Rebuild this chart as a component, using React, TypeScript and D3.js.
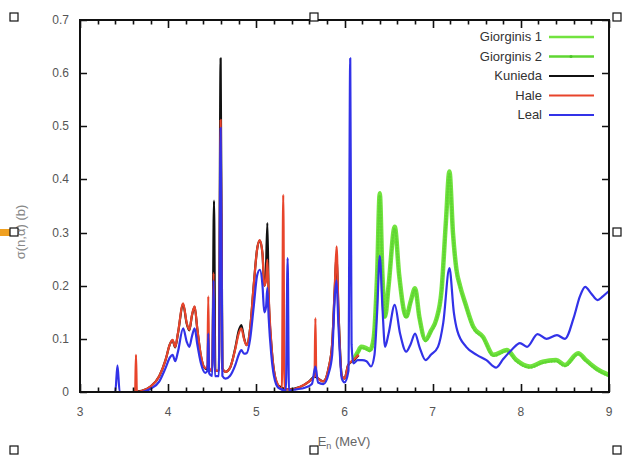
import React from "react";
import * as d3 from "d3";

const W = 625;
const H = 462;

const xTicks = [3, 4, 5, 6, 7, 8, 9];
const yTicks = [0, 0.1, 0.2, 0.3, 0.4, 0.5, 0.6, 0.7];

const seriesNames = ["Giorginis 1", "Giorginis 2", "Kunieda", "Hale", "Leal"];
const seriesColors = ["#72e33f", "#5fd632", "#111111", "#e8442b", "#3232e8"];

const leal: [number, number][] = [
  [3.0, 0.0], [3.4, 0.0], [3.425, 0.05], [3.45, 0.0], [3.7, 0.0], [3.8, 0.006], [3.9, 0.02],
  [3.97, 0.045], [4.02, 0.065], [4.05, 0.07], [4.08, 0.058], [4.11, 0.075], [4.17, 0.12],
  [4.21, 0.095], [4.24, 0.085], [4.27, 0.105], [4.3, 0.12], [4.33, 0.09], [4.37, 0.055],
  [4.42, 0.036], [4.445, 0.04], [4.455, 0.11], [4.465, 0.035], [4.5, 0.03], [4.515, 0.21],
  [4.53, 0.03], [4.575, 0.03], [4.595, 0.497], [4.615, 0.03], [4.65, 0.025], [4.7, 0.03],
  [4.76, 0.05], [4.8, 0.07], [4.83, 0.079], [4.86, 0.072], [4.89, 0.073], [4.93, 0.1],
  [4.97, 0.16], [5.01, 0.22], [5.04, 0.23], [5.07, 0.2], [5.09, 0.15], [5.11, 0.16],
  [5.125, 0.196], [5.14, 0.14], [5.17, 0.07], [5.2, 0.03], [5.25, 0.008], [5.335, 0.003],
  [5.355, 0.252], [5.37, 0.003], [5.45, 0.005], [5.55, 0.008], [5.63, 0.015], [5.67, 0.048],
  [5.7, 0.018], [5.76, 0.015], [5.82, 0.035], [5.86, 0.07], [5.89, 0.18], [5.91, 0.21],
  [5.93, 0.13], [5.97, 0.025], [6.0, 0.018], [6.045, 0.04], [6.065, 0.628], [6.08, 0.09],
  [6.1, 0.054], [6.15, 0.06], [6.2, 0.06], [6.25, 0.058], [6.3, 0.048], [6.34, 0.07],
  [6.37, 0.15], [6.4, 0.256], [6.43, 0.16], [6.46, 0.085], [6.5, 0.11], [6.57, 0.164],
  [6.63, 0.11], [6.7, 0.076], [6.75, 0.09], [6.8, 0.11], [6.85, 0.085], [6.92, 0.06],
  [6.98, 0.07], [7.06, 0.085], [7.12, 0.13], [7.19, 0.233], [7.24, 0.15], [7.28, 0.115],
  [7.38, 0.085], [7.5, 0.07], [7.61, 0.06], [7.72, 0.046], [7.8, 0.062], [7.9, 0.08],
  [7.99, 0.092], [8.07, 0.085], [8.19, 0.109], [8.29, 0.1], [8.41, 0.107], [8.5, 0.1],
  [8.6, 0.14], [8.67, 0.18], [8.73, 0.198], [8.8, 0.185], [8.87, 0.173], [8.93, 0.18],
  [9.0, 0.19],
];

const hale: [number, number][] = [
  [3.6, 0.0], [3.625, 0.0], [3.635, 0.07], [3.645, 0.0], [3.7, 0.002], [3.8, 0.01],
  [3.9, 0.03], [3.97, 0.06], [4.02, 0.09], [4.05, 0.098], [4.08, 0.085], [4.11, 0.11],
  [4.17, 0.167], [4.21, 0.13], [4.24, 0.117], [4.27, 0.145], [4.3, 0.161], [4.33, 0.12],
  [4.37, 0.07], [4.42, 0.045], [4.445, 0.05], [4.455, 0.18], [4.465, 0.045], [4.5, 0.04],
  [4.515, 0.224], [4.53, 0.04], [4.575, 0.04], [4.595, 0.512], [4.615, 0.045], [4.65, 0.038],
  [4.7, 0.045], [4.76, 0.08], [4.8, 0.11], [4.83, 0.12], [4.86, 0.1], [4.89, 0.088],
  [4.93, 0.12], [4.97, 0.2], [5.01, 0.27], [5.04, 0.286], [5.07, 0.26], [5.09, 0.2],
  [5.11, 0.21], [5.125, 0.249], [5.14, 0.18], [5.17, 0.09], [5.2, 0.04], [5.25, 0.012],
  [5.29, 0.005], [5.305, 0.371], [5.32, 0.005], [5.4, 0.005], [5.5, 0.01], [5.6, 0.02],
  [5.66, 0.03], [5.67, 0.139], [5.68, 0.03], [5.76, 0.02], [5.82, 0.045], [5.86, 0.09],
  [5.89, 0.2], [5.91, 0.274], [5.93, 0.16], [5.97, 0.03], [6.0, 0.025], [6.04, 0.05],
  [6.08, 0.058], [6.12, 0.063], [6.16, 0.07],
];

const kunieda: [number, number][] = [
  [3.6, 0.0], [3.7, 0.002], [3.8, 0.01], [3.9, 0.03], [3.97, 0.06], [4.02, 0.09],
  [4.05, 0.097], [4.08, 0.084], [4.11, 0.109], [4.17, 0.165], [4.21, 0.129], [4.24, 0.116],
  [4.27, 0.144], [4.3, 0.16], [4.33, 0.119], [4.37, 0.069], [4.42, 0.044], [4.5, 0.04],
  [4.52, 0.36], [4.535, 0.04], [4.575, 0.04], [4.595, 0.628], [4.615, 0.045], [4.65, 0.038],
  [4.7, 0.045], [4.76, 0.082], [4.8, 0.115], [4.83, 0.126], [4.86, 0.102], [4.89, 0.088],
  [4.93, 0.12], [4.97, 0.2], [5.01, 0.27], [5.04, 0.285], [5.07, 0.26], [5.09, 0.2],
  [5.105, 0.21], [5.125, 0.318], [5.14, 0.18], [5.17, 0.09], [5.2, 0.04], [5.25, 0.012],
  [5.35, 0.005], [5.5, 0.01], [5.6, 0.02], [5.66, 0.029], [5.76, 0.02], [5.82, 0.045],
  [5.86, 0.09], [5.89, 0.195], [5.91, 0.26], [5.93, 0.16], [5.97, 0.03], [6.0, 0.025],
  [6.04, 0.05], [6.08, 0.057], [6.12, 0.062], [6.16, 0.069],
];

const giorginis1: [number, number][] = [
  [6.1, 0.06], [6.15, 0.075], [6.19, 0.085], [6.24, 0.083], [6.29, 0.079], [6.33, 0.1],
  [6.37, 0.22], [6.4, 0.374], [6.43, 0.22], [6.46, 0.142], [6.5, 0.2], [6.57, 0.311],
  [6.62, 0.22], [6.7, 0.142], [6.75, 0.17], [6.8, 0.195], [6.85, 0.14], [6.92, 0.098],
  [6.98, 0.115], [7.04, 0.136], [7.1, 0.19], [7.15, 0.32], [7.19, 0.415], [7.23, 0.3],
  [7.27, 0.23], [7.31, 0.2], [7.37, 0.167], [7.46, 0.123], [7.57, 0.104], [7.69, 0.07],
  [7.84, 0.079], [7.95, 0.06], [8.1, 0.048], [8.25, 0.057], [8.4, 0.06], [8.5, 0.051],
  [8.65, 0.073], [8.74, 0.06], [8.85, 0.045], [9.0, 0.032],
];

const giorginis2: [number, number][] = [
  [6.1, 0.058], [6.15, 0.073], [6.19, 0.083], [6.24, 0.081], [6.29, 0.077], [6.33, 0.098],
  [6.37, 0.215], [6.4, 0.37], [6.43, 0.218], [6.46, 0.14], [6.5, 0.198], [6.57, 0.308],
  [6.62, 0.218], [6.7, 0.14], [6.75, 0.168], [6.8, 0.193], [6.85, 0.138], [6.92, 0.096],
  [6.98, 0.113], [7.04, 0.134], [7.1, 0.188], [7.15, 0.316], [7.19, 0.41], [7.23, 0.298],
  [7.27, 0.228], [7.31, 0.198], [7.37, 0.165], [7.46, 0.121], [7.57, 0.102], [7.69, 0.068],
  [7.84, 0.077], [7.95, 0.058], [8.1, 0.046], [8.25, 0.055], [8.4, 0.058], [8.5, 0.049],
  [8.65, 0.071], [8.74, 0.058], [8.85, 0.043], [9.0, 0.03],
];

export default function App() {
  const left = 80, right = 609, top = 20, bottom = 392;
  const x = d3.scaleLinear().domain([3, 9]).range([left, right]);
  const y = d3.scaleLinear().domain([0, 0.7]).range([bottom, top]);
  const line = d3
    .line<[number, number]>()
    .x((d) => x(d[0]))
    .y((d) => y(d[1]))
    .curve(d3.curveMonotoneX);

  const minorX = d3.range(30, 91, 2).map((v) => v / 10);
  const font = "'Liberation Sans', Arial, sans-serif";
  const legendY = (i: number) => 37 + i * 19.5;
  const handles: [number, number][] = [
    [14, 17], [314, 17], [617, 17], [14, 232], [617, 232], [14, 450], [314, 450], [617, 450],
  ];

  let tickPath = "";
  minorX.forEach((v) => {
    const major = Math.abs(v - Math.round(v)) < 1e-6;
    const len = major ? 8 : 4.5;
    const px = Math.round(x(v)) + 0.5;
    tickPath += `M${px},${bottom}V${bottom - len}M${px},${top}V${top + len}`;
  });
  yTicks.forEach((v) => {
    const py = Math.round(y(v)) + 0.5;
    tickPath += `M${left},${py}H${left + 7}M${right},${py}H${right - 7}`;
  });

  return (
    <svg
      width={W}
      height={H}
      style={{ position: "absolute", left: 0, top: 0, background: "#fff" }}
      fontFamily={font}
    >
      <rect x={0} y={0} width={W} height={H} fill="#fff" />
      {/* curves */}
      <path d={line(giorginis1) || ""} fill="none" stroke={seriesColors[0]} strokeWidth={4.5} strokeLinejoin="round" />
      <path
        d={line(giorginis2) || ""}
        fill="none"
        stroke={seriesColors[1]}
        strokeWidth={2.5}
        strokeDasharray="0.5 2.5"
        strokeLinecap="round"
      />
      <path d={line(kunieda) || ""} fill="none" stroke={seriesColors[2]} strokeWidth={2.2} strokeLinejoin="round" />
      <path d={line(hale) || ""} fill="none" stroke={seriesColors[3]} strokeWidth={2.2} strokeLinejoin="round" />
      <path d={line(leal) || ""} fill="none" stroke={seriesColors[4]} strokeWidth={2.2} strokeLinejoin="round" />

      {/* frame and ticks */}
      <rect x={left} y={top} width={right - left} height={bottom - top} fill="none" stroke="#111" strokeWidth={2} />
      <path d={tickPath} fill="none" stroke="#111" strokeWidth={1.6} />
      {yTicks.map((v) => (
        <text key={"yl" + v} x={left - 11} y={y(v) + 4} textAnchor="end" fontSize={12} fill="#555">
          {v === 0 ? "0" : v.toFixed(1)}
        </text>
      ))}
      {xTicks.map((v) => (
        <text key={"xl" + v} x={x(v)} y={bottom + 24} textAnchor="middle" fontSize={12} fill="#555">
          {v}
        </text>
      ))}

      {/* axis titles */}
      <text x={344} y={446} textAnchor="middle" fontSize={13} fill="#666">
        E<tspan fontSize={9} dy={3}>n</tspan>
        <tspan dy={-3}> (MeV)</tspan>
      </text>
      <text
        transform="translate(25,232) rotate(-90)"
        textAnchor="middle"
        fontSize={13}
        fill="#888"
      >
        σ(n,α) (b)
      </text>

      {/* legend */}
      {seriesNames.map((name, i) => (
        <g key={name}>
          <text x={542} y={legendY(i) + 4} textAnchor="end" fontSize={13} fill="#333">
            {name}
          </text>
          <line
            x1={549}
            x2={594}
            y1={legendY(i)}
            y2={legendY(i)}
            stroke={seriesColors[i]}
            strokeWidth={i <= 1 ? 2.5 : 2.2}
          />
          {i === 1 && <circle cx={571} cy={legendY(i)} r={1.5} fill="#4cc428" />}
        </g>
      ))}

      {/* selection handles */}
      <rect x={0} y={229} width={10} height={7} fill="#f0a020" />
      {handles.map(([hx, hy], i) => (
        <rect key={"h" + i} x={hx - 4} y={hy - 4} width={8} height={8} fill="#fff" stroke="#111" strokeWidth={1.2} />
      ))}
    </svg>
  );
}
